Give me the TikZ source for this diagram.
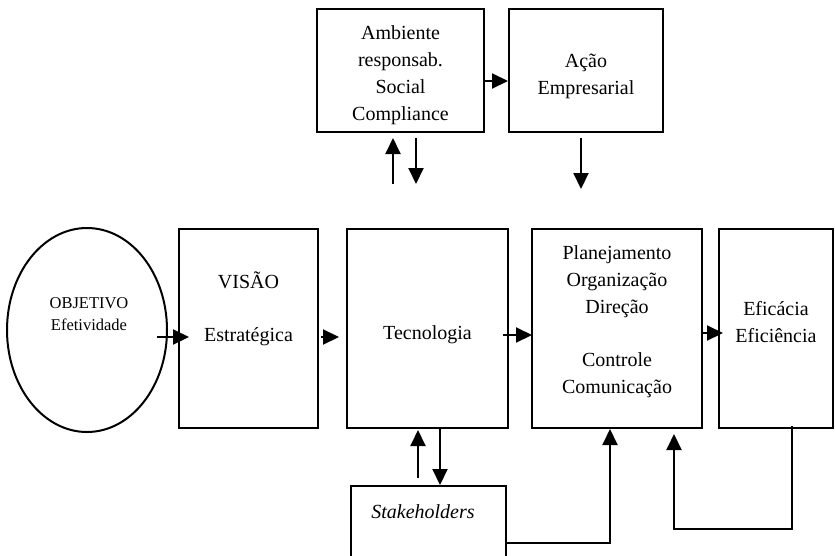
\documentclass[tikz,border=0pt]{standalone}
\usepackage{fontspec}
\setmainfont{Liberation Serif}
\usetikzlibrary{arrows.meta,calc,shapes.geometric}
\begin{document}
\begin{tikzpicture}[x=1pt,y=-1pt,
  box/.style={draw, line width=2pt, rectangle, inner sep=0pt},
  lbl/.style={align=center, font=\fontsize{20}{27}\selectfont, inner sep=0pt},
  small/.style={align=center, font=\fontsize{16.5}{22}\selectfont, inner sep=0pt},
  arr/.style={line width=2pt, -{Triangle[length=16pt,width=15pt]}},
  ln/.style={line width=2pt}]
\useasboundingbox (0,0) rectangle (835,555);
\clip (0,0) rectangle (835,555);
% boxes
\node[box, minimum width=167pt, minimum height=123pt] (amb) at (400.5,70.5) {};
\node[box, minimum width=154pt, minimum height=123pt] (acao) at (586,70.5) {};
\node[draw, ellipse, line width=2pt, minimum width=160pt, minimum height=204pt, inner sep=0pt] (obj) at (87,330) {};
\node[box, minimum width=139pt, minimum height=199pt] (visao) at (248.5,328.5) {};
\node[box, minimum width=161pt, minimum height=199pt] (tec) at (427.5,328.5) {};
\node[box, minimum width=170pt, minimum height=199pt] (plan) at (617,328.5) {};
\node[box, minimum width=114pt, minimum height=199pt] (efic) at (776,328.5) {};
\node[box, minimum width=155pt, minimum height=114pt] (stake) at (428.5,543) {};
% labels
\node[lbl] (tamb) at (400.5,75) {Ambiente\\responsab.\\Social\\Compliance};
\node[lbl] (tacao) at (586,76.5) {Ação\\Empresarial};
\node[small] (tobj) at (89,314) {OBJETIVO\\Efetividade};
\node[lbl] (tvisao) at (248.5,308.5) {VISÃO\\[26pt]Estratégica};
\node[lbl] (ttec) at (427.5,335) {Tecnologia};
\node[lbl] (tplan) at (617,321.5) {Planejamento\\Organização\\Direção\\[26pt]Controle\\Comunicação};
\node[lbl] (tefic) at (776,322.5) {Eficácia\\Eficiência};
\node[lbl, font=\fontsize{20}{27}\selectfont\itshape] (tstake) at (423,512) {Stakeholders};
% arrows
\draw[arr] ($(visao.west)+(-21,8.5)$) -- ($(visao.west)+(11,8.5)$);
\draw[arr] ($(visao.east)+(2,8.5)$) -- ($(tec.west)+(-7,8.5)$);
\draw[arr] ($(tec.east)+(-6,6.5)$) -- ($(plan.west)+(1,6.5)$);
\draw[arr] ($(plan.east)+(0,4.5)$) -- ($(efic.west)+(5,4.5)$);
\draw[arr] ($(amb.east)+(0,10.5)$) -- ($(acao.west)+(0,10.5)$);
\draw[arr] ($(amb.south)+(-7.5,51)$) -- ($(amb.south)+(-7.5,5)$);
\draw[arr] ($(amb.south)+(15.5,5)$) -- ($(amb.south)+(15.5,51)$);
\draw[arr] ($(acao.south)+(-5,5)$) -- ($(acao.south)+(-5,56)$);
\draw[arr] ($(tec.south)+(-9.5,49)$) -- ($(tec.south)+(-9.5,1)$);
\draw[arr] ($(tec.south)+(12.5,0)$) -- ($(stake.north)+(11.5,0)$);
\draw[arr] (stake.east) -| ($(plan.south)+(-7,0)$);
\draw[arr] ($(efic.south)+(16,-3)$) -- ++(0,103) -| ($(efic.south)+(-102,5)$);
\end{tikzpicture}
\end{document}
